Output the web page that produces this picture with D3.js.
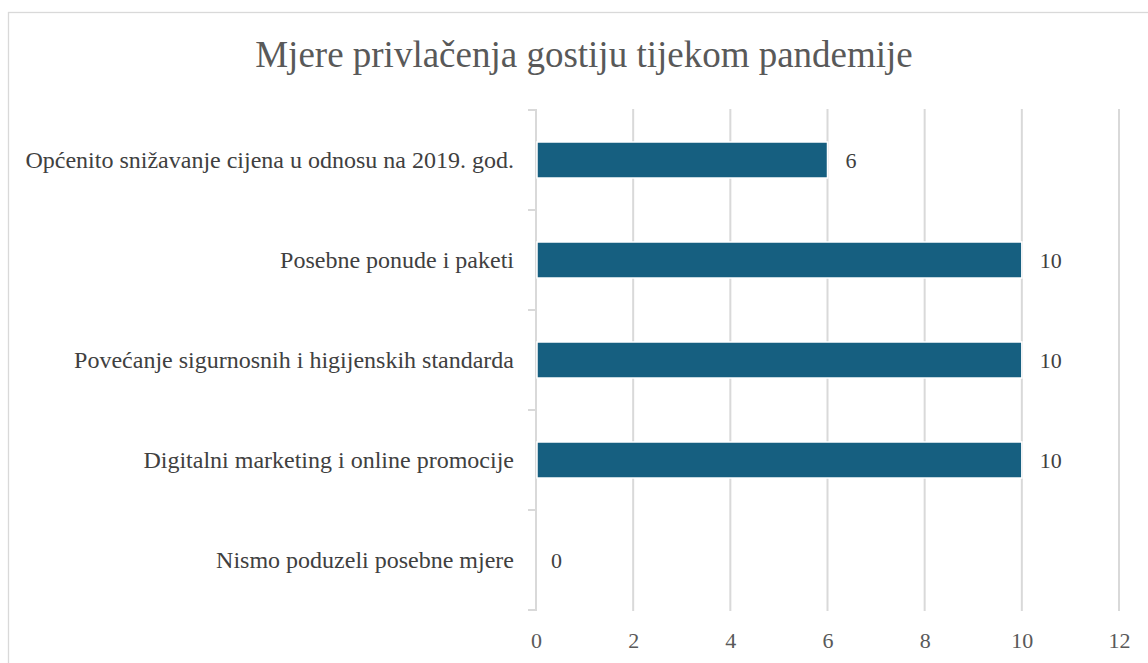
<!DOCTYPE html>
<html>
<head>
<meta charset="utf-8">
<script src="https://cdn.jsdelivr.net/npm/d3@7"></script>
<style>
  html, body { margin: 0; padding: 0; background: #fff; }
  svg { display: block; }
</style>
</head>
<body>
<div id="chart"></div>
<script>
// data
const categories = [
  "Općenito snižavanje cijena u odnosu na 2019. god.",
  "Posebne ponude i paketi",
  "Povećanje sigurnosnih i higijenskih standarda",
  "Digitalni marketing i online promocije",
  "Nismo poduzeli posebne mjere"
];
const values = [6, 10, 10, 10, 0];
const xTicks = [0, 2, 4, 6, 8, 10, 12];
const title = "Mjere privlačenja gostiju tijekom pandemije";

const W = 1148, H = 663;
const FONT = "Liberation Serif, Times New Roman, serif";
let margin = {top: 110, right: 29, bottom: 53, left: 536};

let svg = d3.select("#chart").append("svg")
    .attr("width", W)
    .attr("height", H)
    .attr("font-family", FONT);

// outer chart border (cropped at right/bottom)
svg.append("rect")
    .attr("x", 8.5).attr("y", 12.5)
    .attr("width", W + 20).attr("height", H + 20)
    .attr("fill", "none")
    .attr("stroke", "#d9d9d9")
    .attr("stroke-width", 1.3);

let x = d3.scaleLinear()
    .domain([0, 12])
    .range([margin.left, W - margin.right]);

let y = d3.scaleBand()
    .domain(categories)
    .range([margin.top, H - margin.bottom]);

const barH = y.bandwidth() * 0.36;

// title
svg.append("text")
    .attr("x", 584)
    .attr("y", 67)
    .attr("text-anchor", "middle")
    .attr("font-size", 37)
    .attr("fill", "#595959")
    .text(title);

// vertical gridlines
svg.append("g")
    .selectAll("line")
    .data(xTicks.filter(d => d > 0))
    .enter()
    .append("line")
        .attr("x1", d => x(d)).attr("x2", d => x(d))
        .attr("y1", margin.top - 1).attr("y2", H - margin.bottom + 1)
        .attr("stroke", "#d9d9d9")
        .attr("stroke-width", 2);

// x axis labels (no line)
let xAxis = svg.append("g")
    .attr("transform", "translate(0," + (H - margin.bottom) + ")")
    .call(d3.axisBottom(x).tickValues(xTicks).tickSize(0).tickPadding(0))
    .attr("font-family", FONT);
xAxis.select(".domain").remove();
xAxis.selectAll("text")
    .attr("y", 0)
    .attr("dy", "38px")
    .attr("font-size", 22)
    .attr("fill", "#595959");

// y axis: line + outer ticks at band boundaries
let bounds = categories.map(c => y(c)).concat([y(categories[categories.length - 1]) + y.bandwidth()]);
svg.append("line")
    .attr("x1", x(0)).attr("x2", x(0))
    .attr("y1", margin.top - 1).attr("y2", H - margin.bottom + 1)
    .attr("stroke", "#d9d9d9")
    .attr("stroke-width", 2);
svg.append("g")
    .selectAll("line")
    .data(bounds)
    .enter()
    .append("line")
        .attr("x1", x(0) - 8).attr("x2", x(0))
        .attr("y1", d => d).attr("y2", d => d)
        .attr("stroke", "#d9d9d9")
        .attr("stroke-width", 2);

// category labels
svg.append("g")
    .selectAll("text")
    .data(categories)
    .enter()
    .append("text")
        .attr("x", x(0) - 22)
        .attr("y", d => y(d) + y.bandwidth() / 2)
        .attr("dy", "0.35em")
        .attr("text-anchor", "end")
        .attr("font-size", 24)
        .attr("fill", "#404040")
        .text(d => d);

// bars
svg.append("g")
    .selectAll("rect")
    .data(categories)
    .enter()
    .append("rect")
        .attr("x", x(0) + 1)
        .attr("y", d => y(d) + (y.bandwidth() - barH) / 2)
        .attr("width", (d, i) => Math.max(0, x(values[i]) - x(0) - 1))
        .attr("height", barH)
        .attr("fill", "#165f80")
        .attr("stroke", "#fff")
        .attr("stroke-width", 1.5);

// value labels
svg.append("g")
    .selectAll("text")
    .data(categories)
    .enter()
    .append("text")
        .attr("x", (d, i) => x(values[i]) + (values[i] > 0 ? 18 : 15))
        .attr("y", d => y(d) + y.bandwidth() / 2)
        .attr("dy", "0.35em")
        .attr("font-size", 22)
        .attr("fill", "#404040")
        .text((d, i) => values[i]);
</script>
</body>
</html>
